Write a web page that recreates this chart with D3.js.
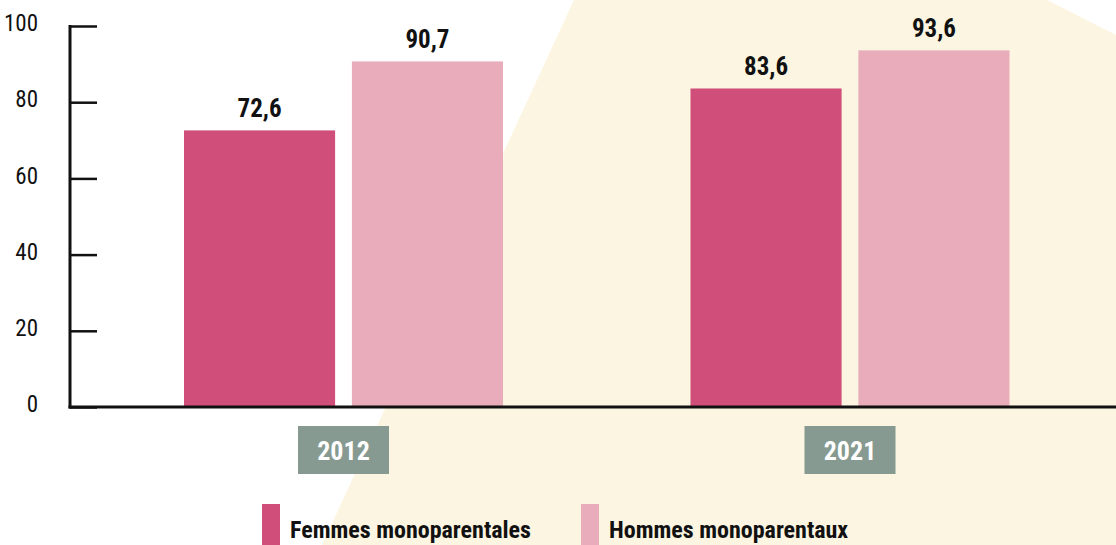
<!DOCTYPE html>
<meta charset="utf-8">
<title>monoparentales</title>
<style>
  body { margin: 0; background: #fff; }
  svg { display: block; }
  svg text { font-family: "Roboto Condensed", "Liberation Sans Narrow", "DejaVu Sans Condensed", sans-serif; }
</style>
<body>
<div class="graph"></div>
</body>
<script src="https://d3js.org/d3.v7.min.js"></script>
<script>

// data

var years = ["2012", "2021"];
var series = ["Femmes monoparentales", "Hommes monoparentaux"];
var femmes = [72.6, 83.6];
var hommes = [90.7, 93.6];
var yTicks = [0, 20, 40, 60, 80, 100];

var colors = ["#d04e7a", "#e8acbb"];

var W = 1116, H = 545;

var svg = d3.select(".graph").append("svg")
    .attr("width", W)
    .attr("height", H);

// cream shape behind the chart
svg.append("polygon")
  .attr("points", "574,0 1047,0 1116,35 1116,545 322,545")
  .attr("fill", "#fbf5e1");

var rows = years.map(function(y, i) {
  return { year: y, values: [femmes[i], hommes[i]] };
});

// scales

var yscale = d3.scaleLinear()
  .domain([0, 100])
  .range([407, 26]);

var xgroup = d3.scalePoint()
  .domain(years)
  .range([343.5, 850]);

var xbar = d3.scaleBand()
  .domain(series)
  .range([-159.5, 159.5])
  .paddingInner(0.1);

// bars

var grp = svg.selectAll("g.year")
  .data(rows)
  .enter()
  .append("g")
  .attr("class", "year")
  .attr("transform", function(d) { return "translate(" + xgroup(d.year) + ",0)"; });

grp.selectAll("rect")
  .data(function(d) { return d.values; })
  .enter()
  .append("rect")
  .attr("x", function(d, i) { return xbar(series[i]); })
  .attr("width", xbar.bandwidth())
  .attr("y", function(d) { return yscale(d); })
  .attr("height", function(d) { return yscale(0) - yscale(d); })
  .attr("fill", function(d, i) { return colors[i]; });

grp.selectAll("text.val")
  .data(function(d) { return d.values; })
  .enter()
  .append("text")
  .attr("class", "val")
  .attr("x", function(d, i) { return xbar(series[i]) + xbar.bandwidth() / 2; })
  .attr("y", function(d) { return yscale(d) - 13; })
  .attr("text-anchor", "middle")
  .attr("font-size", 25)
  .attr("font-weight", "bold")
  .attr("fill", "#111")
  .text(function(d) { return String(d).replace(".", ","); });

// year boxes

grp.append("rect")
  .attr("x", -45.5)
  .attr("y", 426)
  .attr("width", 91)
  .attr("height", 48)
  .attr("fill", "#869a91");

grp.append("text")
  .attr("x", 0)
  .attr("y", 460)
  .attr("text-anchor", "middle")
  .attr("font-size", 26)
  .attr("font-weight", "bold")
  .attr("fill", "#fff")
  .text(function(d) { return d.year; });

// y axis

var yaxis = d3.axisRight(yscale)
  .tickValues(yTicks)
  .tickSize(27)
  .tickFormat(d3.format("d"));

var ax = svg.append("g")
  .attr("transform", "translate(70,0)")
  .call(yaxis)
  .attr("font-family", null);

ax.select(".domain").remove();
ax.selectAll(".tick line").attr("stroke", "#111").attr("stroke-width", 2.5);
ax.selectAll(".tick text")
  .attr("x", -32)
  .attr("dy", "0.2em")
  .attr("text-anchor", "end")
  .attr("font-size", 23)
  .attr("fill", "#111");

svg.append("line")
  .attr("x1", 70).attr("x2", 70)
  .attr("y1", yscale(100) - 1).attr("y2", yscale(0) + 1.5)
  .attr("stroke", "#111").attr("stroke-width", 3);

svg.append("line")
  .attr("x1", 68.5).attr("x2", W)
  .attr("y1", yscale(0)).attr("y2", yscale(0))
  .attr("stroke", "#111").attr("stroke-width", 3);

// legend

var legX = [262, 581];
var leg = svg.selectAll("g.leg")
  .data(series)
  .enter()
  .append("g")
  .attr("class", "leg")
  .attr("transform", function(d, i) { return "translate(" + legX[i] + ",0)"; });

leg.append("rect")
  .attr("y", 504)
  .attr("width", 18)
  .attr("height", 41)
  .attr("fill", function(d, i) { return colors[i]; });

leg.append("text")
  .attr("x", 28)
  .attr("y", 538)
  .attr("font-size", 24)
  .attr("font-weight", "bold")
  .attr("fill", "#111")
  .text(function(d) { return d; });

</script>
